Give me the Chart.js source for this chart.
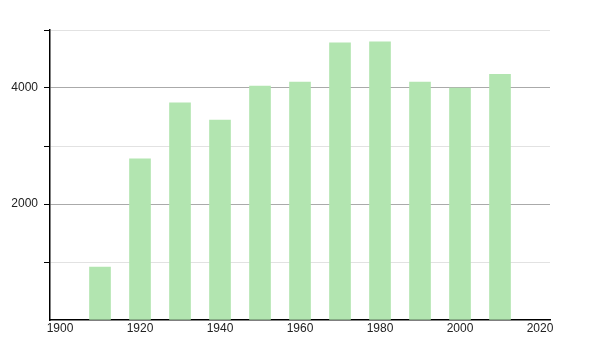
<!DOCTYPE html>
<html>
<head>
<meta charset="utf-8">
<script src="https://cdn.jsdelivr.net/npm/chart.js@4.4.0/dist/chart.umd.min.js"></script>
<style>
  html, body { margin: 0; padding: 0; background: #fff; }
  #wrap { width: 600px; height: 350px; }
</style>
</head>
<body>
<div id="wrap"><canvas id="grafico"></canvas></div>
<script>
// dados
var anos = [1910, 1920, 1930, 1940, 1950, 1960, 1970, 1980, 1990, 2000, 2010];
var populacao = [912, 2777, 3745, 3448, 4034, 4103, 4780, 4797, 4103, 3998, 4236];
var ticksX = [1900, 1920, 1940, 1960, 1980, 2000, 2020];
var ticksY = [0, 1000, 2000, 3000, 4000, 5000];
var rotulosY = [2000, 4000];

var pontos = [];
for (var i = 0; i < anos.length; i++) {
    pontos.push({ x: anos[i], y: populacao[i] });
}

var ctx = document.getElementById("grafico").getContext("2d");
var grafico = new Chart(ctx, {
    type: "bar",
    data: {
        datasets: [{
            data: pontos,
            backgroundColor: "#b2e5b0",
            borderWidth: 0,
            barThickness: 21
        }]
    },
    options: {
        responsive: true,
        maintainAspectRatio: false,
        animation: false,
        layout: { padding: { top: 30, right: 50, left: 0, bottom: 0 } },
        plugins: { legend: { display: false }, tooltip: { enabled: false } },
        scales: {
            x: {
                type: "linear",
                offset: false,
                min: 1897.5,
                max: 2022.5,
                afterBuildTicks: function(scale) {
                    scale.ticks = ticksX.map(function(v) { return { value: v }; });
                },
                ticks: {
                    color: "#222",
                    font: { family: "Liberation Sans, Arial", size: 12 },
                    padding: 1,
                    maxRotation: 0,
                    autoSkip: false,
                    callback: function(v) { return String(v); }
                },
                grid: { drawOnChartArea: false, drawTicks: false },
                border: { display: true, color: "#000", width: 1.5 },
                afterFit: function(scale) { scale.height = 30; }
            },
            y: {
                min: 0,
                max: 5000,
                afterBuildTicks: function(scale) {
                    scale.ticks = ticksY.map(function(v) { return { value: v }; });
                },
                ticks: {
                    color: "#222",
                    font: { family: "Liberation Sans, Arial", size: 12 },
                    padding: 6,
                    autoSkip: false,
                    callback: function(v) {
                        return rotulosY.indexOf(v) >= 0 ? String(v) : "";
                    }
                },
                grid: {
                    color: function(c) {
                        if (!c.tick) return "rgba(0,0,0,0)";
                        if (c.tick.value === 0) return "rgba(0,0,0,0)";
                        return rotulosY.indexOf(c.tick.value) >= 0 ? "#aaaaaa" : "#e2e2e2";
                    },
                    tickColor: function(c) {
                        return c.tick && c.tick.value === 0 ? "rgba(0,0,0,0)" : "#000";
                    },
                    tickLength: 6,
                    lineWidth: 1
                },
                border: { display: true, color: "#000", width: 1.5 },
                afterFit: function(scale) { scale.width = 50; }
            }
        }
    }
});
</script>
</body>
</html>
